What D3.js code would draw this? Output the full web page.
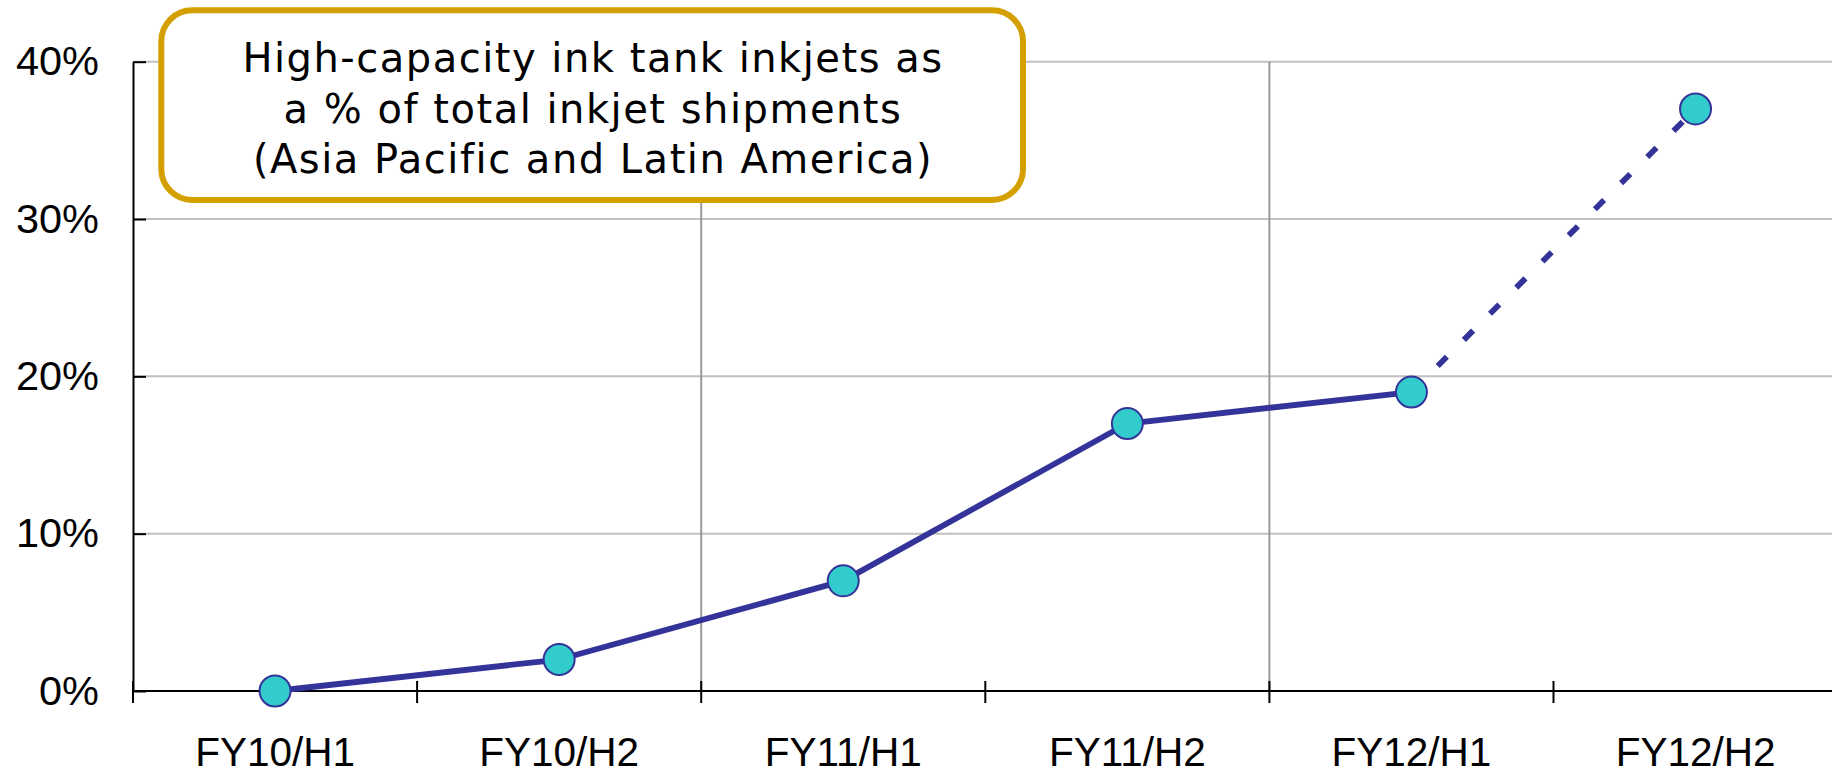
<!DOCTYPE html>
<html>
<head>
<meta charset="utf-8">
<script src="https://cdn.jsdelivr.net/npm/d3@7"></script>
<style>
  html, body { margin: 0; padding: 0; background: #ffffff; }
  svg { display: block; }
</style>
</head>
<body>
<svg id="chart" width="1832" height="771"></svg>
<script>
// ---- data ----
const categories = ["FY10/H1", "FY10/H2", "FY11/H1", "FY11/H2", "FY12/H1", "FY12/H2"];
const shareValues = [0.00, 0.02, 0.07, 0.17, 0.19, 0.37];
const actualCount = 5;                // first 5 points solid, last segment is a forecast (dashed)
const yTickValues = [0, 0.1, 0.2, 0.3, 0.4];
const yTickLabels = ["0%", "10%", "20%", "30%", "40%"];
const titleLines = ["High-capacity ink tank inkjets as", "a % of total inkjet shipments", "(Asia Pacific and Latin America)"];

(function () {
// ---- layout ----
const W = 1832, H = 771;
const plotLeft = 133, bandW = 284.1, plotBottom = 691, plotTop = 61.7;
const svg = d3.select("#chart");

const x = d3.scaleBand().domain(categories).range([plotLeft, plotLeft + bandW * categories.length]).padding(0);
const y = d3.scaleLinear().domain([0, 0.4]).range([plotBottom, plotTop]);
const cx = c => x(c) + x.bandwidth() / 2;

const labelFont = "'Liberation Sans', Arial, sans-serif";

// horizontal gridlines
svg.append("g").selectAll("line").data(yTickValues.filter(v => v > 0)).join("line")
  .attr("x1", plotLeft).attr("x2", W)
  .attr("y1", d => y(d)).attr("y2", d => y(d))
  .attr("stroke", "#c0c0c0").attr("stroke-width", 2);

// vertical gridlines between fiscal years
const boundaries = d3.range(categories.length + 1).map(i => i < categories.length ? x(categories[i]) : x(categories[i - 1]) + x.bandwidth());
svg.append("g").selectAll("line").data([boundaries[2], boundaries[4]]).join("line")
  .attr("x1", d => d).attr("x2", d => d)
  .attr("y1", y(0.4)).attr("y2", y(0))
  .attr("stroke", "#999999").attr("stroke-width", 2);

// title box
svg.append("rect")
  .attr("x", 161.3).attr("y", 10.3).attr("width", 861.7).attr("height", 189.7)
  .attr("rx", 31).attr("ry", 31)
  .attr("fill", "#ffffff").attr("stroke", "#d4a000").attr("stroke-width", 6);

svg.append("g").selectAll("text").data(titleLines).join("text")
  .attr("x", 593).attr("y", (d, i) => [72, 123, 173][i])
  .attr("text-anchor", "middle")
  .attr("font-family", "'DejaVu Sans', Verdana, sans-serif")
  .attr("font-size", 40).attr("letter-spacing", "1.5px")
  .attr("fill", "#000").text(d => d);

// y axis
const yAxis = d3.axisLeft(y).tickValues(yTickValues)
  .tickFormat((d, i) => yTickLabels[i]).tickSizeInner(-13).tickSizeOuter(0).tickPadding(34);
const gy = svg.append("g").attr("transform", `translate(${plotLeft},0)`).call(yAxis);
gy.select(".domain").attr("stroke", "#000").attr("stroke-width", 2);
gy.selectAll(".tick line").attr("stroke", "#000").attr("stroke-width", 2);
gy.selectAll(".tick text").attr("font-family", labelFont).attr("font-size", 41.5).attr("fill", "#000");

// x axis (labels at band centres)
const xAxis = d3.axisBottom(x).tickSize(0).tickPadding(46.5);
const gx = svg.append("g").attr("transform", `translate(0,${plotBottom})`).call(xAxis);
gx.select(".domain").remove();
gx.selectAll(".tick text").attr("font-family", labelFont).attr("font-size", 40.5).attr("fill", "#000");

// x axis baseline + crossing boundary ticks
svg.append("line").attr("x1", plotLeft).attr("x2", W).attr("y1", plotBottom).attr("y2", plotBottom)
  .attr("stroke", "#000").attr("stroke-width", 2);
svg.append("g").selectAll("line").data(boundaries).join("line")
  .attr("x1", d => d).attr("x2", d => d)
  .attr("y1", plotBottom - 10).attr("y2", plotBottom + 12)
  .attr("stroke", "#000").attr("stroke-width", 2);

// series
const pts = categories.map((c, i) => ({ c, v: shareValues[i] }));
const line = d3.line().x(d => cx(d.c)).y(d => y(d.v));
svg.append("path").datum(pts.slice(0, actualCount))
  .attr("d", line).attr("fill", "none")
  .attr("stroke", "#333399").attr("stroke-width", 5.8).attr("stroke-linejoin", "round");
svg.append("path").datum(pts.slice(actualCount - 1))
  .attr("d", line).attr("fill", "none")
  .attr("stroke", "#333399").attr("stroke-width", 5.8)
  .attr("stroke-dasharray", "13,24");

svg.append("g").selectAll("circle").data(pts).join("circle")
  .attr("cx", d => cx(d.c)).attr("cy", d => y(d.v)).attr("r", 15.5)
  .attr("fill", "#33cccc").attr("stroke", "#333399").attr("stroke-width", 2);
})();
</script>
</body>
</html>
